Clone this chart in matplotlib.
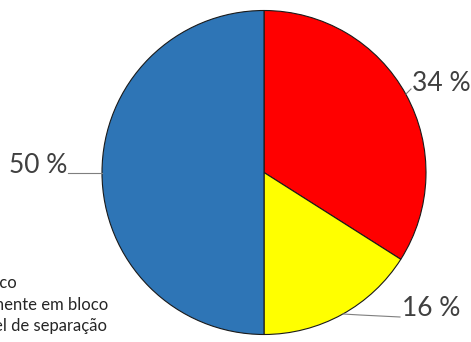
import matplotlib
matplotlib.use('Agg')
import matplotlib.pyplot as plt

# dados
categorias = ['Em bloco', 'Parcialmente em bloco', 'Não passível de separação']
valores = [34, 16, 50]
cores = ['#FF0000', '#FFFF00', '#2E75B6']
rotulos = ['34 %', '16 %', '50 %']

plt.rcParams['font.family'] = ['Lato', 'DejaVu Sans']

W, H = 471, 342
fig = plt.figure(figsize=(W / 100, H / 100), dpi=100)

# pizza: centro (264, 172.5) px, raio 162 px
cx, cy, r = 264, 172.5, 162
ax = fig.add_axes([(cx - r) / W, (H - cy - r) / H, 2 * r / W, 2 * r / H])
ax.pie(valores, colors=cores, startangle=90, counterclock=False,
       wedgeprops=dict(edgecolor='#1a1a1a', linewidth=0.8))
ax.set_xlim(-1, 1)
ax.set_ylim(-1, 1)
ax.axis('off')


def px(x, y):
    return (x - cx) / r, (cy - y) / r


# rotulos e linhas de chamada (em pixels da figura)
posicoes = [
    dict(linha=[(406, 94), (411, 89)], texto=(412, 83), ha='left'),
    dict(linha=[(343, 314), (360, 315), (400, 317)], texto=(402, 308), ha='left'),
    dict(linha=[(102, 173), (68, 173)], texto=(67, 165), ha='right'),
]
for rot, p in zip(rotulos, posicoes):
    xs, ys = zip(*[px(*pt) for pt in p['linha']])
    ax.plot(xs, ys, color='#7f7f7f', lw=0.8, clip_on=False)
    tx, ty = px(*p['texto'])
    ax.text(tx, ty, rot, ha=p['ha'], va='center', fontsize=19, color='#404040')

# legenda (cortada na borda esquerda, como no original)
leg_y = [283, 305, 326]
leg_x = [17, 108, 107]
for cat, x, y in zip(categorias, leg_x, leg_y):
    fig.text(x / W, 1 - y / H, cat, ha='right', va='center', fontsize=12, color='#262626')

fig.savefig('out.png', dpi=100)
